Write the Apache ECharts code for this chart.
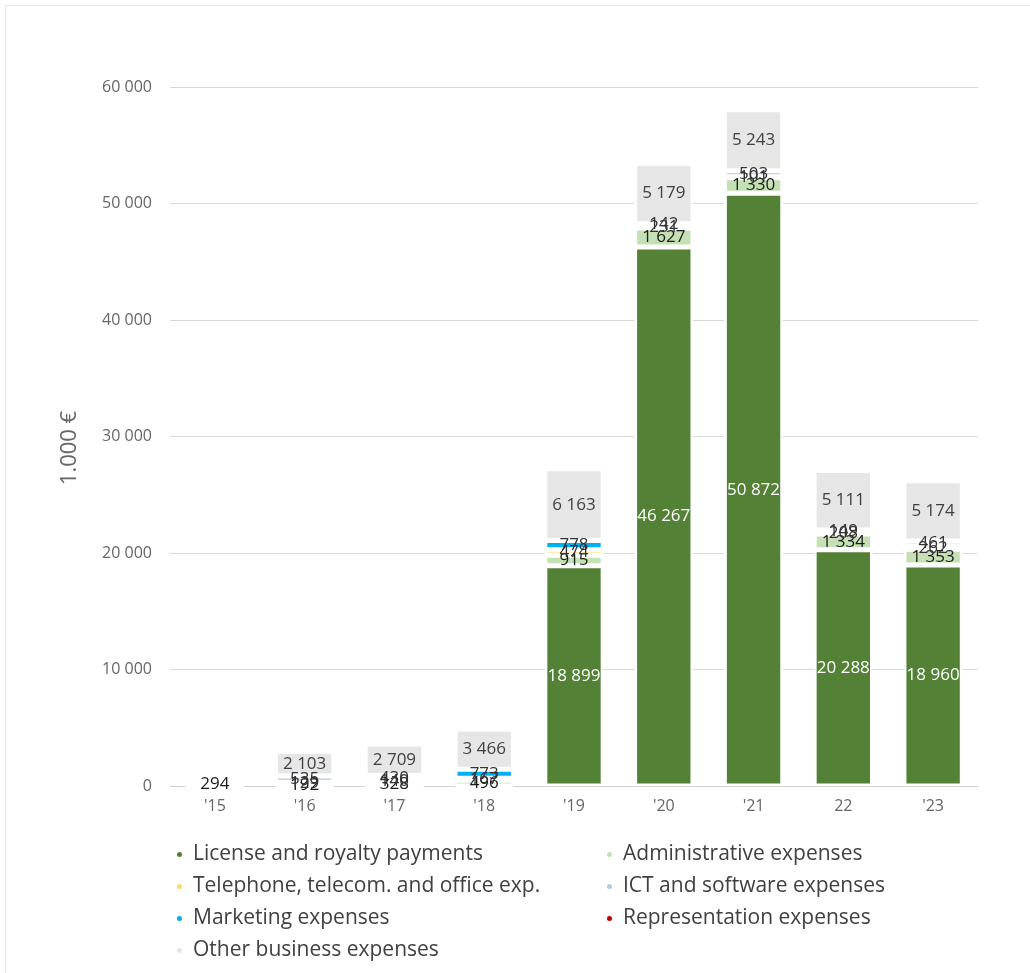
<!DOCTYPE html>
<html>
<head>
<meta charset="utf-8">
<script src="https://cdn.jsdelivr.net/npm/echarts@6/dist/echarts.min.js"></script>
<style>
html,body{margin:0;padding:0;background:#fff;}
#frame{position:absolute;left:5px;top:5px;width:1030px;height:973px;border-left:1px solid #e4e4e4;border-top:1px solid #e4e4e4;}
#chart{position:absolute;left:0;top:0;width:1030px;height:973px;}
</style>
</head>
<body>
<div id="frame"></div>
<div id="chart"></div>
<script>
const categories = ["'15", "'16", "'17", "'18", "'19", "'20", "'21", "22", "'23"];
const license      = [0, 0, 0, 0, 18899, 46267, 50872, 20288, 18960];
const administrative = [294, 192, 328, 496, 915, 1627, 1330, 1334, 1353];
const telephone    = [0, 129, 140, 167, 474, 231, 101, 208, 262];
const ict          = [0, 535, 430, 0, 0, 142, 503, 149, 461];
const marketing    = [0, 0, 0, 773, 778, 0, 0, 0, 0];
const representation = [0, 0, 0, 0, 0, 0, 0, 0, 0];
const other        = [0, 2103, 2709, 3466, 6163, 5179, 5243, 5111, 5174];
const yTicks = [0, 10000, 20000, 30000, 40000, 50000, 60000];
const yAxisTitle = '1.000 €';

const seriesNames = ['License and royalty payments','Administrative expenses','Telephone, telecom. and office exp.','ICT and software expenses','Marketing expenses','Representation expenses','Other business expenses'];
const seriesData = [license, administrative, telephone, ict, marketing, representation, other];
const colors = ['#538135','#c5e0b4','#ffd966','#b4c7e7','#00b0f0','#c00000','#e7e6e6'];
const labelColors = ['#ffffff','#1a1a1a','#333333','#333333','#333333','#333333','#404040'];

function fmt(v){ return String(Math.round(v)).replace(/\B(?=(\d{3})+(?!\d))/g,' '); }

const chart = echarts.init(document.getElementById('chart'));
const series = seriesNames.map((n,i)=>({
  name:n, type:'bar', stack:'total', barWidth:'65%',
  data: seriesData[i],
  itemStyle:{color:colors[i], borderColor:'#fff', borderWidth:2.5},
  label:{show:true, position:'inside', color:labelColors[i], fontFamily:'Open Sans', fontSize:17,
    formatter:p=> p.value ? fmt(p.value) : ''},
  emphasis:{disabled:true}
}));

const legendText = {fontSize:21, color:'#404040', fontFamily:'Open Sans', padding:[0,0,0,5]};
chart.setOption({
  animation:false,
  textStyle:{fontFamily:'Open Sans'},
  grid:{left:170, right:52, top:87, bottom:187},
  legend:[
    {orient:'vertical', left:170, top:839, itemGap:11, icon:'circle', itemWidth:7, itemHeight:7,
     textStyle:legendText,
     data:[seriesNames[0], seriesNames[2], seriesNames[4], seriesNames[6]]},
    {orient:'vertical', left:600, top:839, itemGap:11, icon:'circle', itemWidth:7, itemHeight:7,
     textStyle:legendText,
     data:[seriesNames[1], seriesNames[3], seriesNames[5]]}
  ],
  graphic:[{type:'text', x:70, y:448, rotation:Math.PI/2,
    style:{text:yAxisTitle, fontSize:22, fill:'#666666', fontFamily:'Open Sans', align:'center', verticalAlign:'middle'}}],
  xAxis:{type:'category', data:categories,
    axisLine:{lineStyle:{color:'#d0d0d0'}}, axisTick:{show:false},
    axisLabel:{color:'#666666', fontSize:16, margin:12}},
  yAxis:{type:'value', min:yTicks[0], max:yTicks[yTicks.length-1], interval:10000,
    axisLabel:{color:'#666666', fontSize:16, margin:18, formatter:v=>fmt(v)},
    splitLine:{lineStyle:{color:'#d9d9d9'}}},
  series:series
});
</script>
</body>
</html>
